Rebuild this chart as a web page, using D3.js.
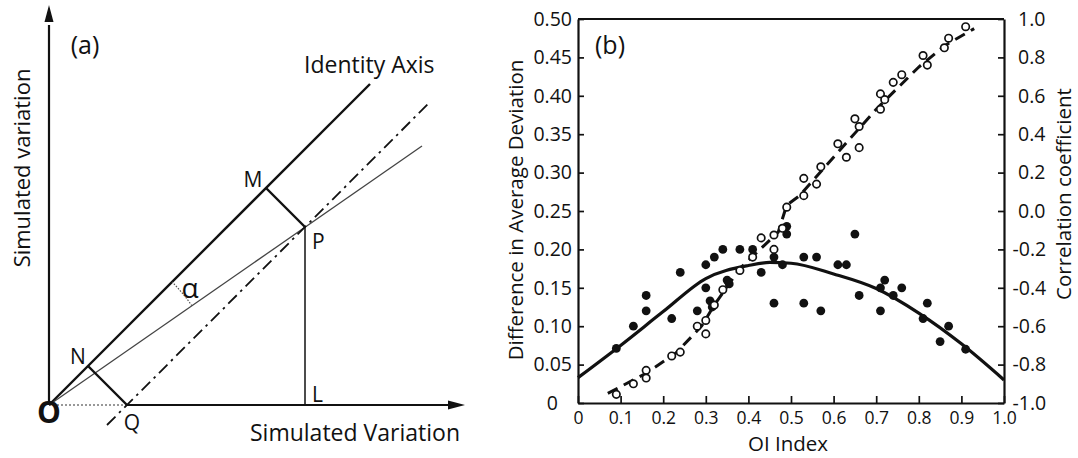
<!DOCTYPE html>
<html>
<head>
<meta charset="utf-8">
<script src="https://cdn.jsdelivr.net/npm/d3@7"></script>
<style>
  body { margin: 0; background: #fff; }
  svg { display: block; font-family: "Open Sans", sans-serif; }
</style>
</head>
<body>
<svg id="chart" width="1078" height="458"></svg>
<script>
// ---- panel (b) data ----
// filled dots: difference in average deviation (left axis)
var devX = [0.09, 0.13, 0.16, 0.16, 0.22, 0.24, 0.28, 0.30, 0.30, 0.31, 0.315, 0.32, 0.34, 0.35, 0.355,
            0.38, 0.41, 0.43, 0.46, 0.46, 0.48, 0.49, 0.49, 0.53, 0.56, 0.53, 0.57, 0.61, 0.63, 0.65,
            0.66, 0.71, 0.72, 0.74, 0.76, 0.71, 0.81, 0.82, 0.85, 0.87, 0.91]
var devY = [0.071, 0.10, 0.14, 0.12, 0.11, 0.17, 0.12, 0.18, 0.15, 0.133, 0.125, 0.19, 0.20, 0.16, 0.155,
            0.20, 0.20, 0.17, 0.13, 0.19, 0.18, 0.23, 0.22, 0.19, 0.19, 0.13, 0.12, 0.18, 0.18, 0.22,
            0.14, 0.15, 0.16, 0.14, 0.15, 0.12, 0.11, 0.13, 0.08, 0.10, 0.07]

// fitted curve for the deviation (left axis)
var fitX = [0, 0.1, 0.2, 0.3, 0.4, 0.45, 0.5, 0.6, 0.7, 0.8, 0.9, 1.0]
var fitY = [0.033, 0.075, 0.119, 0.162, 0.179, 0.183, 0.182, 0.168, 0.149, 0.117, 0.077, 0.030]

// open dots: correlation coefficient (right axis)
var corX = [0.09, 0.13, 0.16, 0.16, 0.22, 0.24, 0.28, 0.30, 0.30, 0.32, 0.34, 0.38, 0.41, 0.43, 0.46,
            0.46, 0.48, 0.49, 0.53, 0.53, 0.56, 0.57, 0.61, 0.63, 0.65, 0.66, 0.66, 0.71, 0.71, 0.72,
            0.74, 0.76, 0.81, 0.82, 0.86, 0.87, 0.91]
var corY = [-0.955, -0.90, -0.83, -0.87, -0.755, -0.735, -0.60, -0.64, -0.57, -0.49, -0.41, -0.31, -0.24, -0.14, -0.125,
            -0.20, -0.09, 0.02, 0.08, 0.17, 0.14, 0.23, 0.35, 0.28, 0.48, 0.44, 0.33, 0.53, 0.61, 0.58,
            0.67, 0.71, 0.81, 0.76, 0.85, 0.90, 0.96]

// dashed trend line for the correlation (right axis)
var corLineX = [0.07, 0.16, 0.23, 0.29, 0.32, 0.38, 0.47, 0.49, 0.52, 0.60, 0.70, 0.80, 0.86, 0.93]
var corLineY = [-0.95, -0.845, -0.74, -0.60, -0.49, -0.30, -0.11, 0.03, 0.08, 0.28, 0.53, 0.75, 0.86, 0.95]

var oiTicks = [0, 0.1, 0.2, 0.3, 0.4, 0.5, 0.6, 0.7, 0.8, 0.9, 1.0]
var devTicks = [0, 0.05, 0.10, 0.15, 0.20, 0.25, 0.30, 0.35, 0.40, 0.45, 0.50]
var corTicks = [-1.0, -0.8, -0.6, -0.4, -0.2, 0.0, 0.2, 0.4, 0.6, 0.8, 1.0]

// ---- panel (a) schematic, in arbitrary units (O at origin) ----
var ptNames = ["O", "N", "M", "P", "Q", "L"]
var ptX = [0, 39, 217, 256, 78, 256]
var ptY = [0, 39, 217, 178, 0, 0]
var identityEnd = [321, 321]
var biasLineX = [58, 380]      // dash-dot line, parallel to identity
var biasLineY = [-20, 302]
var regEnd = [373, 259]        // thin line through O and P
var alphaR = 174

var svg = d3.select("#chart")
svg.append("rect").attr("width", 1078).attr("height", 458).attr("fill", "#fff")

// ================= panel (a) =================
var xA = d3.scaleLinear().domain([0, 416]).range([49, 465])
var yA = d3.scaleLinear().domain([0, 400]).range([405, 5])
var pt = {}
ptNames.forEach((n, i) => { pt[n] = [xA(ptX[i]), yA(ptY[i])] })

var ga = svg.append("g")
// axes
ga.append("line").attr("x1", xA(0)).attr("y1", yA(0)).attr("x2", xA(0)).attr("y2", yA(380))
  .attr("stroke", "#111").attr("stroke-width", 2.2)
ga.append("path").attr("d", `M${xA(0)},${yA(400)} L${xA(0) - 4.5},${yA(383)} L${xA(0) + 4.5},${yA(383)} Z`).attr("fill", "#111")
ga.append("line").attr("x1", pt.Q[0]).attr("y1", yA(0)).attr("x2", xA(400)).attr("y2", yA(0))
  .attr("stroke", "#111").attr("stroke-width", 2.2)
ga.append("line").attr("x1", xA(0)).attr("y1", yA(0)).attr("x2", pt.Q[0]).attr("y2", yA(0))
  .attr("stroke", "#777").attr("stroke-width", 1.5).attr("stroke-dasharray", "2,2")
ga.append("path").attr("d", `M${xA(416)},${yA(0)} L${xA(399)},${yA(0) - 4.5} L${xA(399)},${yA(0) + 4.5} Z`).attr("fill", "#111")

// identity axis
ga.append("line").attr("x1", xA(0)).attr("y1", yA(0)).attr("x2", xA(identityEnd[0])).attr("y2", yA(identityEnd[1]))
  .attr("stroke", "#111").attr("stroke-width", 2.4)
// thin line O -> P
ga.append("line").attr("x1", xA(0)).attr("y1", yA(0)).attr("x2", xA(regEnd[0])).attr("y2", yA(regEnd[1]))
  .attr("stroke", "#444").attr("stroke-width", 1.3)
// dash-dot line through Q and P
ga.append("line").attr("x1", xA(biasLineX[0])).attr("y1", yA(biasLineY[0])).attr("x2", xA(biasLineX[1])).attr("y2", yA(biasLineY[1]))
  .attr("stroke", "#111").attr("stroke-width", 1.8).attr("stroke-dasharray", "12,5,2.5,5")
// perpendiculars
ga.append("line").attr("x1", pt.M[0]).attr("y1", pt.M[1]).attr("x2", pt.P[0]).attr("y2", pt.P[1])
  .attr("stroke", "#111").attr("stroke-width", 2.4)
ga.append("line").attr("x1", pt.N[0]).attr("y1", pt.N[1]).attr("x2", pt.Q[0]).attr("y2", pt.Q[1])
  .attr("stroke", "#111").attr("stroke-width", 2.4)
// P -> L
ga.append("line").attr("x1", pt.P[0]).attr("y1", pt.P[1]).attr("x2", pt.L[0]).attr("y2", pt.L[1])
  .attr("stroke", "#111").attr("stroke-width", 1.5)
// alpha arc
var a0 = Math.atan2(regEnd[1], regEnd[0]), a1 = Math.PI / 4
var arcPts = d3.range(0, 1.0001, 0.1).map(t => {
  var a = a0 + (a1 - a0) * t
  return [xA(alphaR * Math.cos(a)), yA(alphaR * Math.sin(a))]
})
ga.append("path").attr("d", d3.line()(arcPts)).attr("fill", "none")
  .attr("stroke", "#555").attr("stroke-width", 1.2).attr("stroke-dasharray", "1.5,1.5")

// labels
var lab = (x, y, t, size, anchor) => ga.append("text").attr("x", x).attr("y", y)
  .attr("font-size", size).attr("text-anchor", anchor || "middle").attr("fill", "#111").text(t)
lab(85, 54, "(a)", 25)
lab(304, 73, "Identity Axis", 23, "start")
lab(pt.M[0] - 13, pt.M[1] - 1, "M", 21)
lab(pt.P[0] + 7, pt.P[1] + 22, "P", 21, "start")
lab(pt.N[0] - 10, pt.N[1] - 2, "N", 21)
lab(pt.Q[0] + 5, 430, "Q", 21)
lab(pt.L[0] + 7, pt.L[1] - 3, "L", 21, "start")
lab(49, 423, "O", 30).attr("font-weight", "bold")
lab(190, 298, "α", 28)
lab(355, 441, "Simulated Variation", 23)
ga.append("text").attr("transform", "translate(30,168) rotate(-90)")
  .attr("font-size", 22).attr("text-anchor", "middle").attr("fill", "#111").text("Simulated variation")

// ================= panel (b) =================
var x = d3.scaleLinear().domain([0, 1]).range([578, 1004])
var yL = d3.scaleLinear().domain([0, 0.5]).range([403, 19])
var yR = d3.scaleLinear().domain([-1, 1]).range([403, 19])

var gb = svg.append("g")

var fmt1 = d => (Math.round(d * 10) / 10).toFixed(1)

var xAxis = gb.append("g").attr("transform", `translate(0,${yL(0)})`)
  .call(d3.axisBottom(x).tickValues(oiTicks).tickSize(-7).tickSizeOuter(0).tickPadding(9)
    .tickFormat(d => d === 0 ? "0" : fmt1(d)))
var yAxisL = gb.append("g").attr("transform", `translate(${x(0)},0)`)
  .call(d3.axisLeft(yL).tickValues(devTicks).tickSize(-6).tickSizeOuter(0).tickPadding(6)
    .tickFormat(d => d === 0 ? "0" : d.toFixed(2)))
var yAxisR = gb.append("g").attr("transform", `translate(${x(1)},0)`)
  .call(d3.axisRight(yR).tickValues(corTicks).tickSize(-6).tickSizeOuter(0).tickPadding(14)
    .tickFormat(d => fmt1(d).replace("−", "-")))

gb.selectAll(".domain").attr("stroke", "#111").attr("stroke-width", 2.2)
gb.selectAll(".tick line").attr("stroke", "#111").attr("stroke-width", 1.7)
gb.selectAll(".tick text").attr("font-family", "Open Sans, sans-serif").attr("fill", "#111")
xAxis.selectAll(".tick text").attr("font-size", 17.5)
yAxisL.selectAll(".tick text").attr("font-size", 19.5)
yAxisR.selectAll(".tick text").attr("font-size", 19.5)
yAxisL.selectAll(".tick text").filter(d => d === 0).attr("x", -20)
yAxisR.selectAll(".tick text").filter(d => d < -0.05).attr("x", 8.5)
// top frame
gb.append("line").attr("x1", x(0)).attr("x2", x(1)).attr("y1", yL(0.5)).attr("y2", yL(0.5))
  .attr("stroke", "#111").attr("stroke-width", 2.2)

// fitted curve
gb.append("path")
  .datum(fitX.map((v, i) => [v, fitY[i]]))
  .attr("d", d3.line().x(d => x(d[0])).y(d => yL(d[1])).curve(d3.curveMonotoneX))
  .attr("fill", "none").attr("stroke", "#111").attr("stroke-width", 3.2)

// dashed correlation trend
gb.append("path")
  .datum(corLineX.map((v, i) => [v, corLineY[i]]))
  .attr("d", d3.line().x(d => x(d[0])).y(d => yR(d[1])))
  .attr("fill", "none").attr("stroke", "#111").attr("stroke-width", 3).attr("stroke-dasharray", "11,7")

// filled dots
gb.selectAll(".dev").data(devX.map((v, i) => [v, devY[i]])).enter().append("circle")
  .attr("class", "dev").attr("cx", d => x(d[0])).attr("cy", d => yL(d[1])).attr("r", 4.4).attr("fill", "#111")

// open dots
gb.selectAll(".cor").data(corX.map((v, i) => [v, corY[i]])).enter().append("circle")
  .attr("class", "cor").attr("cx", d => x(d[0])).attr("cy", d => yR(d[1])).attr("r", 3.7)
  .attr("fill", "#fff").attr("stroke", "#111").attr("stroke-width", 1.7)

// titles
gb.append("text").attr("x", 595).attr("y", 54).attr("font-size", 25).attr("fill", "#111").text("(b)")
gb.append("text").attr("x", 788).attr("y", 451).attr("font-size", 20.5).attr("text-anchor", "middle")
  .attr("fill", "#111").text("OI Index")
gb.append("text").attr("transform", "translate(523,210) rotate(-90)").attr("font-size", 20.5)
  .attr("text-anchor", "middle").attr("fill", "#111").text("Difference in Average Deviation")
gb.append("text").attr("transform", "translate(1071,194) rotate(-90)").attr("font-size", 20.5)
  .attr("text-anchor", "middle").attr("fill", "#111").text("Correlation coefficient")
</script>
</body>
</html>
